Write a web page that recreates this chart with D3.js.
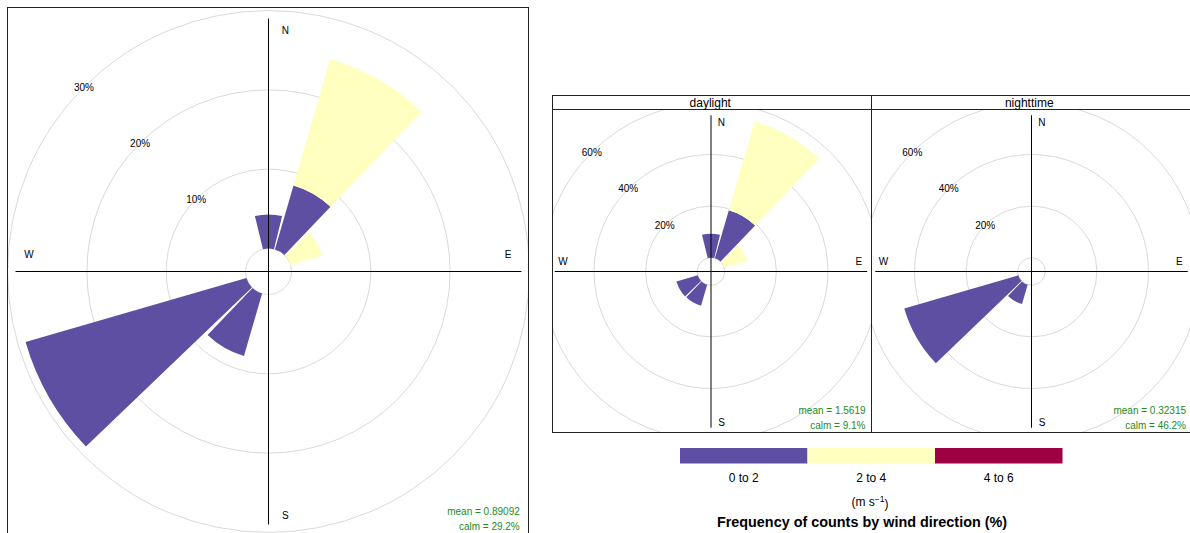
<!DOCTYPE html>
<html><head><meta charset="utf-8">
<script src="https://cdn.jsdelivr.net/npm/d3@7"></script>
<style>
body{margin:0;background:#fff}
svg{display:block}
text{font-family:"Liberation Sans", Arial, sans-serif}
</style>
</head><body>
<svg id="chart" width="1190" height="533"></svg>
<script>
// ---------------- DATA ----------------
const directions = [0, 30, 60, 90, 120, 150, 180, 210, 240, 270, 300, 330];
const speedBins = ["0 to 2", "2 to 4", "4 to 6"];
const binColors = ["#5E4FA2", "#FFFFBF", "#9E0142"];

// frequency (%) by direction, overall
const allSpeed0to2 = [4.3, 8.4, 0, 0, 0, 0, 0, 8.2, 29.0, 0, 0, 0];
const allSpeed2to4 = [0, 16.6, 4.2, 0, 0, 0, 0, 0, 0, 0, 0, 0];
const allSpeed4to6 = [0, 0, 0, 0, 0, 0, 0, 0, 0, 0, 0, 0];
// daylight
const daySpeed0to2 = [9.3, 19.4, 0, 0, 0, 0, 0, 8.5, 8.6, 0, 0, 0];
const daySpeed2to4 = [0, 35.8, 9.3, 0, 0, 0, 0, 0, 0, 0, 0, 0];
const daySpeed4to6 = [0, 0, 0, 0, 0, 0, 0, 0, 0, 0, 0, 0];
// nighttime
const nightSpeed0to2 = [0, 0, 0, 0, 0, 0, 0, 7.8, 46.0, 0, 0, 0];
const nightSpeed2to4 = [0, 0, 0, 0, 0, 0, 0, 0, 0, 0, 0, 0];
const nightSpeed4to6 = [0, 0, 0, 0, 0, 0, 0, 0, 0, 0, 0, 0];

const allTicks = [10, 20, 30];
const panelTicks = [20, 40, 60];
const compassLabels = ["N", "E", "S", "W"];
const panelNames = ["daylight", "nighttime"];
const meanValues = ["0.89092", "1.5619", "0.32315"];
const calmValues = ["29.2%", "9.1%", "46.2%"];
const unitsLabel = "(m s";
const titleLabel = "Frequency of counts by wind direction (%)";

// ---------------- DRAW ----------------
const svg = d3.select("#chart");
const defs = svg.append("defs");
const halfW = 13.8; // wedge half width (deg)

function cumMax(series) {
  return d3.max(directions.map((d, i) => d3.sum(series, s => s[i])));
}

function drawRose(opt) {
  const {id, cx, cy, r, series, ticks, clip, maxFreq, statIdx, statDx, statDy} = opt;
  defs.append("clipPath").attr("id", id).append("rect")
    .attr("x", clip[0]).attr("y", clip[1]).attr("width", clip[2]).attr("height", clip[3]);
  const g = svg.append("g").attr("clip-path", `url(#${id})`);
  const L = r(maxFreq);

  // grid rings
  g.selectAll(".ring").data(ticks).enter().append("circle")
    .attr("cx", cx).attr("cy", cy).attr("r", d => r(d))
    .attr("fill", "none").attr("stroke", "#d9d9d9").attr("stroke-width", 1);
  g.append("circle").attr("cx", cx).attr("cy", cy).attr("r", r(0))
    .attr("fill", "none").attr("stroke", "#d9d9d9").attr("stroke-width", 1);

  // wedges
  const arc = d3.arc();
  const wedges = [];
  directions.forEach((dir, i) => {
    let cum = 0;
    series.forEach((s, k) => {
      const v = s[i];
      if (v > 0) {
        wedges.push({dir, k, inner: cum, outer: cum + v});
      }
      cum += v;
    });
  });
  g.selectAll(".wedge").data(wedges).enter().append("path")
    .attr("transform", `translate(${cx},${cy})`)
    .attr("d", d => arc({
      innerRadius: r(d.inner), outerRadius: r(d.outer),
      startAngle: (d.dir - halfW) * Math.PI / 180,
      endAngle: (d.dir + halfW) * Math.PI / 180
    }))
    .attr("fill", d => binColors[d.k]);

  // axes
  g.append("line").attr("x1", cx - L).attr("x2", cx + L).attr("y1", cy).attr("y2", cy)
    .attr("stroke", "#000").attr("stroke-width", 1);
  g.append("line").attr("x1", cx).attr("x2", cx).attr("y1", cy - L).attr("y2", cy + L)
    .attr("stroke", "#000").attr("stroke-width", 1);

  // compass labels
  const pos = {
    N: [0.067 * L, -0.952 * L], S: [0.067 * L, 0.965 * L],
    E: [0.947 * L, -0.066 * L], W: [-0.947 * L, -0.066 * L]
  };
  g.selectAll(".cmp").data(compassLabels).enter().append("text")
    .attr("x", d => cx + pos[d][0]).attr("y", d => cy + pos[d][1])
    .attr("dy", "0.35em").attr("text-anchor", "middle")
    .attr("font-size", 10).attr("fill", "#000").text(d => d);

  // percent labels at NW
  g.selectAll(".pct").data(ticks).enter().append("text")
    .attr("x", d => cx - r(d) * Math.SQRT1_2).attr("y", d => cy - r(d) * Math.SQRT1_2)
    .attr("dy", "0.35em").attr("text-anchor", "middle")
    .attr("font-size", 10).attr("fill", "#000").text(d => d + "%");

  // stats
  const sx = cx + L + statDx, sy = cy + L + statDy;
  g.append("text").attr("x", sx).attr("y", sy - 14.5).attr("dy", "0.35em")
    .attr("text-anchor", "end").attr("font-size", 10).attr("fill", "#228B22")
    .text("mean = " + meanValues[statIdx]);
  g.append("text").attr("x", sx).attr("y", sy).attr("dy", "0.35em")
    .attr("text-anchor", "end").attr("font-size", 10).attr("fill", "#228B22")
    .text("calm = " + calmValues[statIdx]);
}

// ---- left (overall) panel ----
const allSeries = [allSpeed0to2, allSpeed2to4, allSpeed4to6];
const rAll = d3.scaleLinear().domain([0, 30]).range([23, 23 + 7.93 * 30]);
svg.append("rect").attr("x", 7.5).attr("y", 7.5).attr("width", 521).attr("height", 540)
  .attr("fill", "#fff").attr("stroke", "#222");
drawRose({
  id: "clipAll", cx: 268.5, cy: 271.5, r: rAll, series: allSeries, ticks: allTicks,
  clip: [8, 8, 520, 540], maxFreq: cumMax(allSeries), statIdx: 0, statDx: -1.7, statDy: 1.7
});

// ---- right panels ----
const daySeries = [daySpeed0to2, daySpeed2to4, daySpeed4to6];
const nightSeries = [nightSpeed0to2, nightSpeed2to4, nightSpeed4to6];
const sharedMax = Math.max(cumMax(daySeries), cumMax(nightSeries));
const rPanel = d3.scaleLinear().domain([0, 60]).range([13.8, 13.8 + 2.58 * 60]);

const panelX = [552.5, 871.5];
const panelW = 319.5;
const stripTop = 95.5, stripBot = 109.5, panelBot = 432.5;
const centersX = [711, 1031.5];
const seriesByPanel = [daySeries, nightSeries];

panelNames.forEach((name, i) => {
  const x0 = panelX[i];
  svg.append("rect").attr("x", x0).attr("y", stripTop).attr("width", panelW)
    .attr("height", panelBot - stripTop).attr("fill", "#fff").attr("stroke", "none");
  drawRose({
    id: "clipP" + i, cx: centersX[i], cy: 271.5, r: rPanel, series: seriesByPanel[i],
    ticks: panelTicks, clip: [x0 + 0.5, stripBot + 0.5, panelW - 1, panelBot - stripBot - 1],
    maxFreq: sharedMax, statIdx: i + 1, statDx: -1.7, statDy: -2.5
  });
  svg.append("rect").attr("x", x0).attr("y", stripTop).attr("width", panelW)
    .attr("height", panelBot - stripTop).attr("fill", "none").attr("stroke", "#222");
  svg.append("line").attr("x1", x0).attr("x2", x0 + panelW).attr("y1", stripBot).attr("y2", stripBot)
    .attr("stroke", "#222");
  svg.append("text").attr("x", x0 + panelW / 2 - 2).attr("y", (stripTop + stripBot) / 2)
    .attr("dy", "0.35em").attr("text-anchor", "middle").attr("font-size", 12)
    .attr("fill", "#000").text(name);
});

// ---- legend ----
const legX = d3.scaleBand().domain(speedBins).range([680, 1062.5]).padding(0);
svg.selectAll(".leg").data(speedBins).enter().append("rect")
  .attr("x", d => legX(d)).attr("y", 448).attr("width", legX.bandwidth()).attr("height", 15.5)
  .attr("fill", (d, i) => binColors[i]);
svg.selectAll(".legt").data(speedBins).enter().append("text")
  .attr("x", d => legX(d) + legX.bandwidth() / 2).attr("y", 477.5).attr("dy", "0.35em")
  .attr("text-anchor", "middle").attr("font-size", 12).attr("fill", "#000").text(d => d);

const unitsText = svg.append("text").attr("x", 870).attr("y", 502).attr("dy", "0.35em")
  .attr("text-anchor", "middle").attr("font-size", 12).attr("fill", "#000");
unitsText.append("tspan").text(unitsLabel);
unitsText.append("tspan").attr("dy", "-0.45em").attr("font-size", 8.5).text("−1");
unitsText.append("tspan").attr("dy", "0.45em").text(")");

svg.append("text").attr("x", 862).attr("y", 522).attr("dy", "0.35em")
  .attr("text-anchor", "middle").attr("font-size", 14.4).attr("font-weight", "bold")
  .attr("fill", "#000").text(titleLabel);
</script>
</body></html>
